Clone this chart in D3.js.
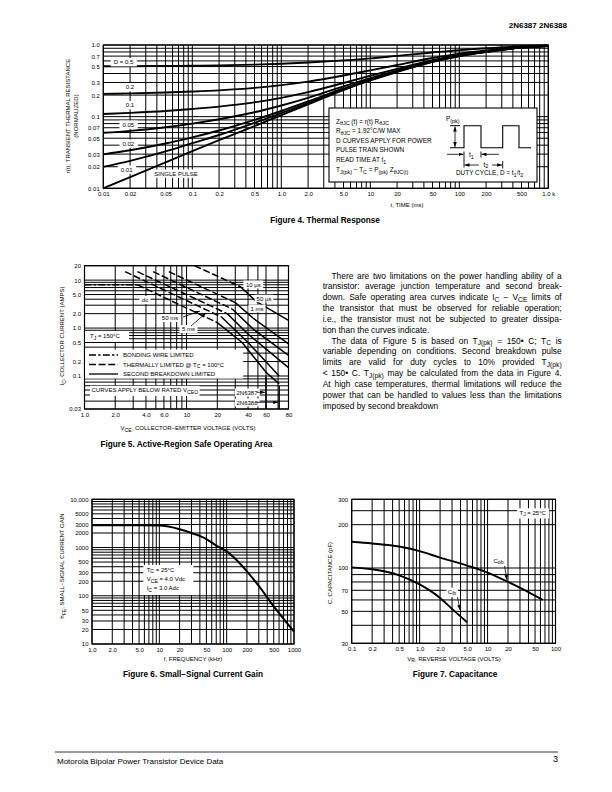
<!DOCTYPE html>
<html><head><meta charset="utf-8">
<script src="https://cdn.jsdelivr.net/npm/d3@7/dist/d3.min.js"></script>
<style>
body{margin:0;background:#fff;}
svg{display:block;font-family:"Liberation Sans",Arial,Helvetica,sans-serif;}
</style></head><body>
<script>
// ================= DATA =================
// Figure 4 – thermal response
const fig4Time   = [0.01,0.02,0.05,0.1,0.2,0.5,1,2,5,10,20,50,100,200,500,1000];
const fig4Single = [0.01,0.0143,0.023,0.033,0.047,0.074,0.105,0.148,0.235,0.32,0.42,0.58,0.70,0.80,0.92,0.97];
const fig4D001   = [0.0199,0.0242,0.0328,0.0427,0.0555,0.082,0.112,0.155,0.24,0.326,0.426,0.584,0.703,0.802,0.921,0.970];
const fig4D002   = [0.0298,0.034,0.0422,0.0515,0.064,0.09,0.12,0.163,0.247,0.332,0.43,0.588,0.706,0.804,0.922,0.971];
const fig4D005   = [0.0595,0.0634,0.0712,0.08,0.092,0.115,0.143,0.183,0.265,0.345,0.443,0.598,0.713,0.81,0.924,0.972];
const fig4D01    = [0.109,0.113,0.12,0.128,0.138,0.158,0.183,0.22,0.295,0.372,0.465,0.615,0.727,0.82,0.928,0.973];
const fig4D02    = [0.208,0.211,0.217,0.224,0.233,0.252,0.275,0.308,0.375,0.443,0.525,0.658,0.757,0.84,0.936,0.976];
const fig4D05    = [0.505,0.506,0.51,0.514,0.52,0.532,0.548,0.57,0.61,0.65,0.705,0.785,0.848,0.9,0.96,0.985];
const fig4CurveNames = ["D = 0.5","0.2","0.1","0.05","0.02","0.01","SINGLE PULSE"];
const fig4XTicks = [0.01,0.02,0.05,0.1,0.2,0.5,1,2,5,10,20,50,100,200,500,1000];
const fig4XLabels = ["0.01","0.02","0.05","0.1","0.2","0.5","1.0","2.0","5.0","10","20","50","100","200","500","1.0 k"];
const fig4YTicks = [1,0.7,0.5,0.3,0.2,0.1,0.07,0.05,0.03,0.02,0.01];
const fig4YLabels = ["1.0","0.7","0.5","0.3","0.2","0.1","0.07","0.05","0.03","0.02","0.01"];
const fig4BoxText = ["Z_{θJC} (t) = r(t) R_{θJC}","R_{θJC} = 1.92°C/W MAX","D CURVES APPLY FOR POWER","PULSE TRAIN SHOWN","READ TIME AT t_{1}","T_{J(pk)} − T_{C} = P_{(pk)} Z_{θJC(t)}"];

// Figure 5 – safe operating area  [V, A]
const fig5BondingWire = [[1,8],[3.3,8]];
const fig5Us10Thermal = [[12,20],[34,7.2]];
const fig5Us10SB      = [[34,7.2],[48,3.6],[80,1.45]];
const fig5Us50Thermal = [[6.7,15],[30,3.4]];
const fig5Us50SB      = [[30,3.4],[45,1.6],[80,0.47]];
const fig5Ms1Thermal  = [[4.7,15],[28,2.5]];
const fig5Ms1SB       = [[28,2.5],[45,0.95],[80,0.27]];
const fig5Ms5Thermal  = [[3.3,15],[25,2.0]];
const fig5Ms5SB       = [[25,2.0],[40,0.75],[80,0.15]];
const fig5Ms50Thermal = [[2.5,15],[22,1.7]];
const fig5Ms50SB      = [[22,1.7],[40,0.5],[71,0.1]];
const fig5DcThermal   = [[3.3,8],[20,1.3]];
const fig5DcSB        = [[20,1.3],[35,0.5],[60,0.12],[71,0.075]];
const fig5Limit2N6387 = [[60,0.096],[60,0.03]];
const fig5Limit2N6388 = [[71,0.07],[71,0.03]];
const fig5XTicks = [1,2,4,6,10,20,40,60,80];
const fig5XLabels = ["1.0","2.0","4.0","6.0","10","20","40","60","80"];
const fig5YTicks = [20,10,5,2,1,0.5,0.2,0.1,0.03];
const fig5YLabels = ["20","10","5.0","2.0","1.0","0.5","0.2","0.1","0.03"];

// Figure 6 – small-signal current gain
const fig6Freq = [1,2,5,10,20,30,50,70,100,150,200,300,500,700,1000];
const fig6Hfe  = [2900,2900,2900,2850,2400,2000,1500,1100,830,500,320,160,60,33,18];
const fig6XTicks = [1,2,5,10,20,50,100,200,500,1000];
const fig6XLabels = ["1.0","2.0","5.0","10","20","50","100","200","500","1000"];
const fig6YTicks = [10000,5000,3000,2000,1000,500,300,200,100,50,30,20,10];
const fig6YLabels = ["10,000","5000","3000","2000","1000","500","300","200","100","50","30","20","10"];

// Figure 7 – capacitance
const fig7CobV = [0.1,0.2,0.5,1,2,5,10,20,40,65];
const fig7Cob  = [152,148,141,131,118,104,93,80,68,60];
const fig7CibV = [0.1,0.2,0.5,1,2,3,5];
const fig7Cib  = [101,98,89,77,62,52,42];
const fig7XTicks = [0.1,0.2,0.5,1,2,5,10,20,50,100];
const fig7XLabels = ["0.1","0.2","0.5","1.0","2.0","5.0","10","20","50","100"];
const fig7YTicks = [300,200,100,70,50,30];
const fig7YLabels = ["300","200","100","70","50","30"];
const fig7YGrid = [30,40,50,60,70,80,90,100,200,250,300];

const paraLines = [
 "There are two limitations on the power handling ability of a",
 "transistor: average junction temperature and second break-",
 "down. Safe operating area curves indicate I_{C} − V_{CE} limits of",
 "the transistor that must be observed for reliable operation;",
 "i.e., the transistor must not be subjected to greater dissipa-",
 "tion than the curves indicate.",
 "The data of Figure 5 is based on T_{J(pk)} = 150• C; T_{C} is",
 "variable depending on conditions. Second breakdown pulse",
 "limits are valid for duty cycles to 10% provided T_{J(pk)}",
 "< 150• C. T_{J(pk)} may be calculated from the data in Figure 4.",
 "At high case temperatures, thermal limitations will reduce the",
 "power that can be handled to values less than the limitations",
 "imposed by second breakdown"
];

// ================= HELPERS =================
const FONT = "'Liberation Sans', Arial, Helvetica, sans-serif";
const svg = d3.select("body").append("svg").attr("width",612).attr("height",792);
svg.append("rect").attr("width",612).attr("height",792).attr("fill","#fff");
const defs = svg.append("defs");
defs.append("marker").attr("id","ah").attr("viewBox","0 0 10 10").attr("refX",10).attr("refY",5)
  .attr("markerWidth",5).attr("markerHeight",3.6).attr("markerUnits","userSpaceOnUse")
  .attr("preserveAspectRatio","none").attr("orient","auto-start-reverse")
  .append("path").attr("d","M0,0L10,5L0,10z").attr("fill","#000");

function logGrid(lo, hi){
  const out=[];
  for(let e=Math.floor(Math.log10(lo)); e<=Math.ceil(Math.log10(hi)); e++)
    for(let k=1;k<10;k++){ const v=+(k*Math.pow(10,e)).toPrecision(6); if(v>=lo*0.9999 && v<=hi*1.0001) out.push(v); }
  return out;
}
function rich(parent, str, x, y, size, anchor, weight, transform, subShift, subScale){
  const sh = subShift===undefined ? 0.3 : subShift;
  const sc = subScale===undefined ? 0.85 : subScale;
  const t = parent.append("text").attr("x",x).attr("y",y).attr("font-size",size).attr("fill","#000");
  if(anchor) t.attr("text-anchor",anchor);
  if(weight) t.attr("font-weight",weight);
  if(transform) t.attr("transform",transform);
  const parts = str.split(/(_\{[^}]*\})/);
  let shifted=false;
  parts.forEach(p=>{
    if(!p) return;
    if(p.startsWith("_{")){
      t.append("tspan").attr("dy",size*sh).attr("font-size",size*sc).text(p.slice(2,-1));
      shifted=true;
    } else {
      const ts=t.append("tspan").text(p);
      if(shifted){ ts.attr("dy",-size*sh); shifted=false; }
    }
  });
  return t;
}
function boxed(parent, str, x, y, size, anchor, px, py){
  const t = rich(parent, str, x, y, size, anchor);
  const b = t.node().getBBox();
  parent.insert("rect", ()=>t.node()).attr("x",b.x-px).attr("y",b.y-py).attr("width",b.width+2*px).attr("height",b.height+2*py).attr("fill","#fff");
  return t;
}
function grid(g, x, y, xg, yg){
  const xr=x.range(), yr=y.range();
  const X0=xr[0], X1=xr[xr.length-1], Y0=yr[0], Y1=yr[yr.length-1];
  g.append("g").selectAll("line").data(xg).join("line")
    .attr("x1",d=>x(d)).attr("x2",d=>x(d)).attr("y1",Y0).attr("y2",Y1)
    .attr("stroke","#000").attr("stroke-width",1);
  g.append("g").selectAll("line").data(yg).join("line")
    .attr("y1",d=>y(d)).attr("y2",d=>y(d)).attr("x1",X0).attr("x2",X1)
    .attr("stroke","#000").attr("stroke-width",1);
  g.append("rect").attr("x",X0).attr("y",Y1).attr("width",X1-X0).attr("height",Y0-Y1)
    .attr("fill","none").attr("stroke","#000").attr("stroke-width",1.2);
}
function axes(g, x, y, xt, xl, yt, yl, size){
  const yr=y.range(), xr=x.range();
  const ax=g.append("g").attr("transform",`translate(0,${yr[0]})`)
    .call(d3.axisBottom(x).tickValues(xt).tickFormat((d,i)=>xl[i]).tickSize(0).tickPadding(3.6));
  ax.select(".domain").remove();
  ax.attr("font-size",size).attr("font-family",FONT);
  const ay=g.append("g").attr("transform",`translate(${xr[0]},0)`)
    .call(d3.axisLeft(y).tickValues(yt).tickFormat((d,i)=>yl[i]).tickSize(0).tickPadding(3.5));
  ay.select(".domain").remove();
  ay.attr("font-size",size).attr("font-family",FONT);
}
function vtitle(g, str, x, cy, size){
  rich(g, str, 0, 0, size, "middle", null, `translate(${x},${cy}) rotate(-90)`);
}
function arrow(g, x1,y1,x2,y2, both){
  const l=g.append("line").attr("x1",x1).attr("y1",y1).attr("x2",x2).attr("y2",y2)
    .attr("stroke","#000").attr("stroke-width",0.8).attr("marker-end","url(#ah)");
  if(both) l.attr("marker-start","url(#ah)");
}

// ================= HEADER / FOOTER =================
svg.append("text").attr("x",567).attr("y",28).attr("text-anchor","end").attr("font-size",8)
  .attr("font-weight","bold").text("2N6387 2N6388");
svg.append("line").attr("x1",55).attr("x2",558).attr("y1",752).attr("y2",752).attr("stroke","#000").attr("stroke-width",0.8);
svg.append("text").attr("x",57).attr("y",764).attr("font-size",8).text("Motorola Bipolar Power Transistor Device Data");
svg.append("text").attr("x",558).attr("y",762).attr("text-anchor","end").attr("font-size",9).text("3");

// ================= FIGURE 4 =================
const f4 = svg.append("g");
const x4 = d3.scaleLog().domain([0.01,1000]).range([103.3,548.3]);
const y4 = d3.scaleLog().domain([0.01,1]).range([188.3,45]);
grid(f4, x4, y4, logGrid(0.01,1000), logGrid(0.01,1));
const line4 = d3.line().x((d,i)=>x4(fig4Time[i])).y(d=>y4(d)).curve(d3.curveMonotoneX);
[fig4D05,fig4D02,fig4D01,fig4D005,fig4D002,fig4D001,fig4Single].forEach(s=>{
  f4.append("path").attr("d",line4(s)).attr("fill","none").attr("stroke","#000").attr("stroke-width",1.9);
});
const f4lab=[[123.5,62],[130,87],[130,105],[128.3,124.5],[128.3,143.5],[126.7,169.5],[176,173.5]];
fig4CurveNames.forEach((n,i)=>boxed(f4,n,f4lab[i][0],f4lab[i][1]+2.2,6,"middle",3,1.2));
axes(f4,x4,y4,fig4XTicks,fig4XLabels,fig4YTicks,fig4YLabels,6);
rich(f4,"t, TIME (ms)",407,207,6,"middle");
vtitle(f4,"r(t), TRANSIENT THERMAL RESISTANCE",70,116,6);
vtitle(f4,"(NORMALIZED)",77.5,116,6);
f4.append("text").attr("x",325).attr("y",223).attr("text-anchor","middle").attr("font-size",8.2)
  .attr("font-weight","bold").text("Figure 4. Thermal Response");
// info box
f4.append("rect").attr("x",329).attr("y",108).attr("width",208).attr("height",74)
  .attr("fill","#fff").attr("stroke","#000").attr("stroke-width",1.1);
const f4ty=[123.5,133,142.5,152,162,172];
fig4BoxText.forEach((s,i)=>rich(f4,s,336,f4ty[i],6.4));
rich(f4,"P_{(pk)}",446,121,6.4);
f4.append("path").attr("d","M450,147.7H464V125.7H481V147.7H502.7V125.7H519V147.7H531")
  .attr("fill","none").attr("stroke","#000").attr("stroke-width",1.1);
f4.append("line").attr("x1",450).attr("x2",460).attr("y1",125.7).attr("y2",125.7).attr("stroke","#000").attr("stroke-width",1);
arrow(f4,455,126.5,455,147,true);
f4.append("line").attr("x1",464).attr("x2",464).attr("y1",151.5).attr("y2",167.5).attr("stroke","#000").attr("stroke-width",0.9);
f4.append("line").attr("x1",481).attr("x2",481).attr("y1",151.5).attr("y2",157.5).attr("stroke","#000").attr("stroke-width",0.9);
f4.append("line").attr("x1",502.7).attr("x2",502.7).attr("y1",161).attr("y2",168.5).attr("stroke","#000").attr("stroke-width",0.9);
arrow(f4,447,154.3,463.5,154.3);
arrow(f4,499,154.3,481.5,154.3);
rich(f4,"t_{1}",469,157,6.4);
arrow(f4,479,165,464.5,165);
arrow(f4,492,165,502.2,165);
rich(f4,"t_{2}",483.5,166.5,6.4);
rich(f4,"DUTY CYCLE, D = t_{1}/t_{2}",456,175,6.4);

// ================= FIGURE 5 =================
const f5 = svg.append("g");
const x5 = d3.scaleLog().domain([1,60,80]).range([84.5,266,288.5]);
const y5 = d3.scaleLog().domain([0.03,0.1,20]).range([409,376,265.7]);
grid(f5, x5, y5, logGrid(1,80), logGrid(0.03,20));
const line5 = d3.line().x(d=>x5(d[0])).y(d=>y5(d[1]));
const dash="7,2.6", dashDot="7,2.2,2.4,2.2";
function soa(data, da){
  const p=f5.append("path").attr("d",line5(data)).attr("fill","none").attr("stroke","#000").attr("stroke-width",1.5);
  if(da) p.attr("stroke-dasharray",da);
}
soa(fig5BondingWire,dashDot);
[fig5Us10Thermal,fig5Us50Thermal,fig5Ms1Thermal,fig5Ms5Thermal,fig5Ms50Thermal,fig5DcThermal].forEach(d=>soa(d,dash));
[fig5Us10SB,fig5Us50SB,fig5Ms1SB,fig5Ms5SB,fig5Ms50SB,fig5DcSB,fig5Limit2N6387,fig5Limit2N6388].forEach(d=>soa(d,null));
// labels
boxed(f5,"10 µs",253.3,286.5,6,"middle",2.5,1);
boxed(f5,"50 µs",264,300.5,6,"middle",2,0.8);
boxed(f5,"1 ms",257,310.5,6,"middle",2,0.8);
boxed(f5,"dc",145,302,6,"middle",2.5,1);
boxed(f5,"50 ms",170,320,6,"middle",2.5,1);
boxed(f5,"5 ms",188.5,331,6,"middle",2.5,1);
arrow(f5,183,317,200,311);
arrow(f5,191,326,206,313);
// Tj box
f5.append("rect").attr("x",85.1).attr("y",331).attr("width",44).attr("height",11).attr("fill","#fff");
rich(f5,"T_{J} = 150°C",90,338,6);
// legend
f5.append("rect").attr("x",85.1).attr("y",349.5).attr("width",158).attr("height",29).attr("fill","#fff");
f5.append("line").attr("x1",89).attr("x2",118).attr("y1",355).attr("y2",355).attr("stroke","#000").attr("stroke-width",1.3).attr("stroke-dasharray",dashDot);
f5.append("line").attr("x1",89).attr("x2",118).attr("y1",364.5).attr("y2",364.5).attr("stroke","#000").attr("stroke-width",1.3).attr("stroke-dasharray",dash);
f5.append("line").attr("x1",89).attr("x2",118).attr("y1",374).attr("y2",374).attr("stroke","#000").attr("stroke-width",1.3);
rich(f5,"BONDING WIRE LIMITED",123,357.2,6);
rich(f5,"THERMALLY LIMITED @ T_{C} = 100°C",123,366.5,6);
rich(f5,"SECOND BREAKDOWN LIMITED",123,376.2,6);
boxed(f5,"CURVES APPLY BELOW RATED V_{CEO}",91.5,392,6,"start",1.5,1.2);
boxed(f5,"2N6387",236.5,394.5,6,"start",1.5,1);
boxed(f5,"2N6388",236.5,404.5,6,"start",1.5,1);
arrow(f5,257,392.3,x5(60)-1,392.3);
arrow(f5,257,402.3,x5(71)-1,402.3);
axes(f5,x5,y5,fig5XTicks,fig5XLabels,fig5YTicks,fig5YLabels,6);
rich(f5,"V_{CE}, COLLECTOR−EMITTER VOLTAGE (VOLTS)",188,430,6,"middle");
vtitle(f5,"I_{C}, COLLECTOR CURRENT (AMPS)",64,336,6);
f5.append("text").attr("x",186.5).attr("y",446.5).attr("text-anchor","middle").attr("font-size",8.2)
  .attr("font-weight","bold").text("Figure 5. Active-Region Safe Operating Area");

// ================= PARAGRAPH =================
const pg = svg.append("g");
paraLines.forEach((s,i)=>{
  const indent = (i===0 || i===6);
  const last = (i===5 || i===12);
  const x0 = indent ? 331.5 : 322.7;
  const target = 561.7 - x0;
  const yb = 278.5 + i*10.85;
  let size = 8.4;
  let t = rich(pg,s,x0,yb,size,null,null,null,0.2,0.8);
  if(!last){
    let natural = t.node().getComputedTextLength();
    if(natural > target - 2){
      size = size * (target - 2) / natural;
      t.remove();
      t = rich(pg,s,x0,yb,size,null,null,null,0.2,0.8);
      natural = t.node().getComputedTextLength();
    }
    const spaces = (t.text().match(/ /g)||[]).length;
    if(spaces>0) t.attr("word-spacing",Math.max(0,(target-natural)/spaces));
  }
});

// ================= FIGURE 6 =================
const f6 = svg.append("g");
const x6 = d3.scaleLog().domain([1,1000]).range([92,294]);
const y6 = d3.scaleLog().domain([10,10000]).range([644,499.3]);
grid(f6, x6, y6, logGrid(1,1000), logGrid(10,10000));
f6.append("path").datum(fig6Hfe).attr("d",d3.line().x((d,i)=>x6(fig6Freq[i])).y(d=>y6(d)).curve(d3.curveMonotoneX))
  .attr("fill","none").attr("stroke","#000").attr("stroke-width",2);
f6.append("rect").attr("x",143.3).attr("y",565).attr("width",50).attr("height",30).attr("fill","#fff");
rich(f6,"T_{C} = 25°C",146.7,571.5,6);
rich(f6,"V_{CE} = 4.0 Vdc",146.7,580.8,6);
rich(f6,"I_{C} = 3.0 Adc",146.7,589.8,6);
axes(f6,x6,y6,fig6XTicks,fig6XLabels,fig6YTicks,fig6YLabels,6);
rich(f6,"f, FREQUENCY (kHz)",193,660.5,6,"middle");
vtitle(f6,"h_{FE}, SMALL−SIGNAL CURRENT GAIN",64,566,6);
f6.append("text").attr("x",193).attr("y",676.5).attr("text-anchor","middle").attr("font-size",8.2)
  .attr("font-weight","bold").text("Figure 6. Small−Signal Current Gain");

// ================= FIGURE 7 =================
const f7 = svg.append("g");
const x7 = d3.scaleLog().domain([0.1,100]).range([351.7,555.5]);
const y7 = d3.scaleLog().domain([30,300]).range([643.3,499.3]);
grid(f7, x7, y7, logGrid(0.1,100), fig7YGrid);
f7.append("path").datum(fig7Cob).attr("d",d3.line().x((d,i)=>x7(fig7CobV[i])).y(d=>y7(d)).curve(d3.curveMonotoneX))
  .attr("fill","none").attr("stroke","#000").attr("stroke-width",1.9);
f7.append("path").datum(fig7Cib).attr("d",d3.line().x((d,i)=>x7(fig7CibV[i])).y(d=>y7(d)).curve(d3.curveMonotoneX))
  .attr("fill","none").attr("stroke","#000").attr("stroke-width",1.9);
boxed(f7,"T_{J} = 25°C",532.7,514.5,6,"middle",2.5,1.2);
boxed(f7,"C_{ob}",498.5,562.5,6,"middle",1.5,0.8);
boxed(f7,"C_{ib}",452,593.5,6,"middle",1.5,0.8);
arrow(f7,504.5,566,507,580);
arrow(f7,457.5,597,460,610);
axes(f7,x7,y7,fig7XTicks,fig7XLabels,fig7YTicks,fig7YLabels,6);
rich(f7,"V_{R}, REVERSE VOLTAGE (VOLTS)",454,660.5,6,"middle");
vtitle(f7,"C, CAPACITANCE (pF)",332,573,6);
f7.append("text").attr("x",455).attr("y",676.5).attr("text-anchor","middle").attr("font-size",8.2)
  .attr("font-weight","bold").text("Figure 7. Capacitance");
</script></body></html>
